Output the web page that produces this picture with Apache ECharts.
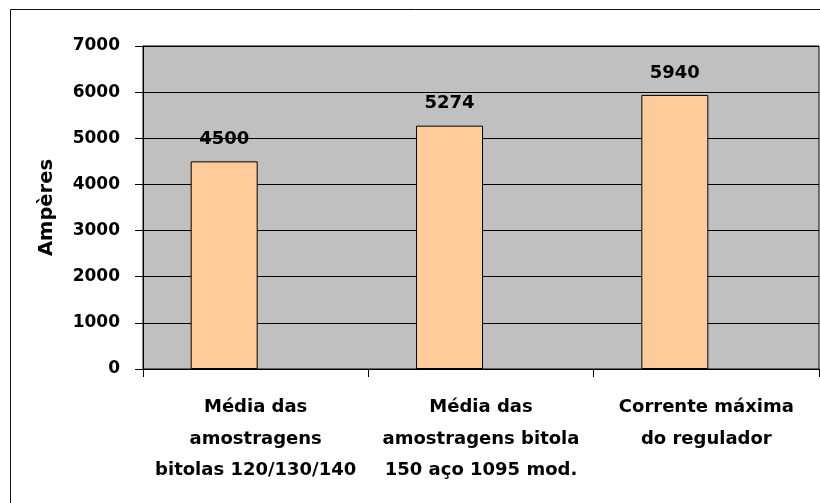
<!DOCTYPE html>
<html>
<head>
<meta charset="utf-8">
<script src="https://cdn.jsdelivr.net/npm/echarts@6/dist/echarts.min.js"></script>
<style>
  html, body { margin: 0; padding: 0; background: #fff; }
  #chart { width: 820px; height: 503px; }
</style>
</head>
<body>
<div id="chart"></div>
<script>
// Current measurements (A)
const categories = [
  'Média das\namostragens\nbitolas 120/130/140',
  'Média das\namostragens bitola\n150 aço 1095 mod.',
  'Corrente máxima\ndo regulador'
];
const values = [4500, 5274, 5940];
const yTicks = { min: 0, max: 7000, interval: 1000 };
const yName = 'Ampères';

const FONT = 'DejaVu Sans';

const chart = echarts.init(document.getElementById('chart'), null, { renderer: 'canvas' });
chart.setOption({
  backgroundColor: '#ffffff',
  animation: false,
  graphic: [{
    type: 'rect',
    shape: { x: 10.5, y: 9.5, width: 900, height: 600 },
    style: { fill: 'none', stroke: '#111', lineWidth: 1 },
    silent: true
  }],
  grid: {
    left: 143, top: 46, right: 1, bottom: 134,
    show: true, backgroundColor: '#c0c0c0', borderColor: '#000', borderWidth: 1
  },
  xAxis: {
    type: 'category',
    data: categories,
    axisLine: { lineStyle: { color: '#000', width: 1 } },
    axisTick: { show: true, length: 8, lineStyle: { color: '#000' } },
    axisLabel: {
      color: '#000', fontFamily: FONT, fontWeight: 'bold', fontSize: 18,
      lineHeight: 31.5, margin: 23, interval: 0
    }
  },
  yAxis: {
    type: 'value',
    min: yTicks.min, max: yTicks.max, interval: yTicks.interval,
    name: yName,
    nameLocation: 'middle',
    nameGap: 86,
    nameRotate: 90,
    nameTextStyle: { color: '#000', fontFamily: FONT, fontWeight: 'bold', fontSize: 19.5 },
    axisLine: { show: true, lineStyle: { color: '#000', width: 1 } },
    axisTick: { show: true, length: 8, lineStyle: { color: '#000' } },
    axisLabel: {
      color: '#000', fontFamily: FONT, fontWeight: 'bold', fontSize: 17, margin: 23,
      formatter: v => String(v)
    },
    splitLine: { show: true, lineStyle: { color: '#000', width: 1 } }
  },
  series: [
    {
      type: 'bar',
      data: values,
      barWidth: 67,
      barGap: '-6%',
      itemStyle: { color: '#ffcc99', borderColor: '#000', borderWidth: 1 },
      label: {
        show: true, position: 'top', distance: 13,
        color: '#000', fontFamily: FONT, fontWeight: 'bold', fontSize: 18
      }
    },
    {
      // empty second slot: keeps each bar on the left half of its category
      type: 'bar',
      data: [],
      barWidth: 67,
      silent: true
    }
  ]
});
</script>
</body>
</html>
